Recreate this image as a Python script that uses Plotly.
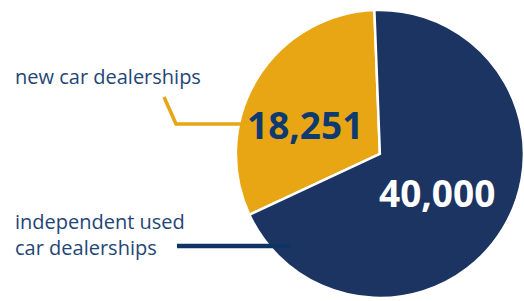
import plotly.graph_objects as go

categories = ["new car dealerships", "independent used car dealerships"]
values = [18251, 40000]
colors = ["#E8A614", "#1C3461"]

W, H = 524, 301

def px(x):
    return x / W

def py(y):
    return 1 - y / H

fig = go.Figure()
fig.add_trace(go.Pie(
    labels=categories,
    values=values,
    sort=False,
    direction="clockwise",
    rotation=245,
    marker=dict(colors=colors, line=dict(color="white", width=2.5)),
    textinfo="none",
    hoverinfo="label+value",
    showlegend=False,
    domain=dict(x=[0.45, 1.0], y=[0.01, 0.967]),
))

# value labels
fig.add_annotation(x=px(305), y=py(125), xref="paper", yref="paper",
                   xanchor="center", yanchor="middle",
                   text=f"<b>{values[0]:,}</b>", showarrow=False,
                   font=dict(family="Open Sans", size=37, color="#0D3A70"))
fig.add_annotation(x=px(437), y=py(192), xref="paper", yref="paper",
                   xanchor="center", yanchor="middle",
                   text=f"<b>{values[1]:,}</b>", showarrow=False,
                   font=dict(family="Open Sans", size=37, color="white"))

# category labels
fig.add_annotation(x=px(13), y=py(76), xref="paper", yref="paper",
                   xanchor="left", yanchor="middle",
                   text=categories[0], showarrow=False,
                   font=dict(family="Open Sans", size=20, color="#1F4676"))
fig.add_annotation(x=px(13), y=py(234), xref="paper", yref="paper",
                   xanchor="left", yanchor="middle", align="left",
                   text="independent used<br>car dealerships", showarrow=False,
                   font=dict(family="Open Sans", size=20, color="#1F4676"))

# leader lines
fig.add_shape(type="path",
              path=f"M {px(164)} {py(97)} L {px(176)} {py(124)} L {px(242)} {py(124)}",
              xref="paper", yref="paper",
              line=dict(color="#E8A614", width=3.5))
fig.add_shape(type="line", x0=px(177), y0=py(246), x1=px(291), y1=py(246),
              xref="paper", yref="paper",
              line=dict(color="#0E3466", width=4.5))

fig.update_layout(
    width=W, height=H,
    margin=dict(l=0, r=0, t=0, b=0),
    paper_bgcolor="white", plot_bgcolor="white",
)

fig.write_html("out.html", config={"displayModeBar": False},
               post_script="document.body.style.margin='0';document.body.style.overflow='hidden';")
